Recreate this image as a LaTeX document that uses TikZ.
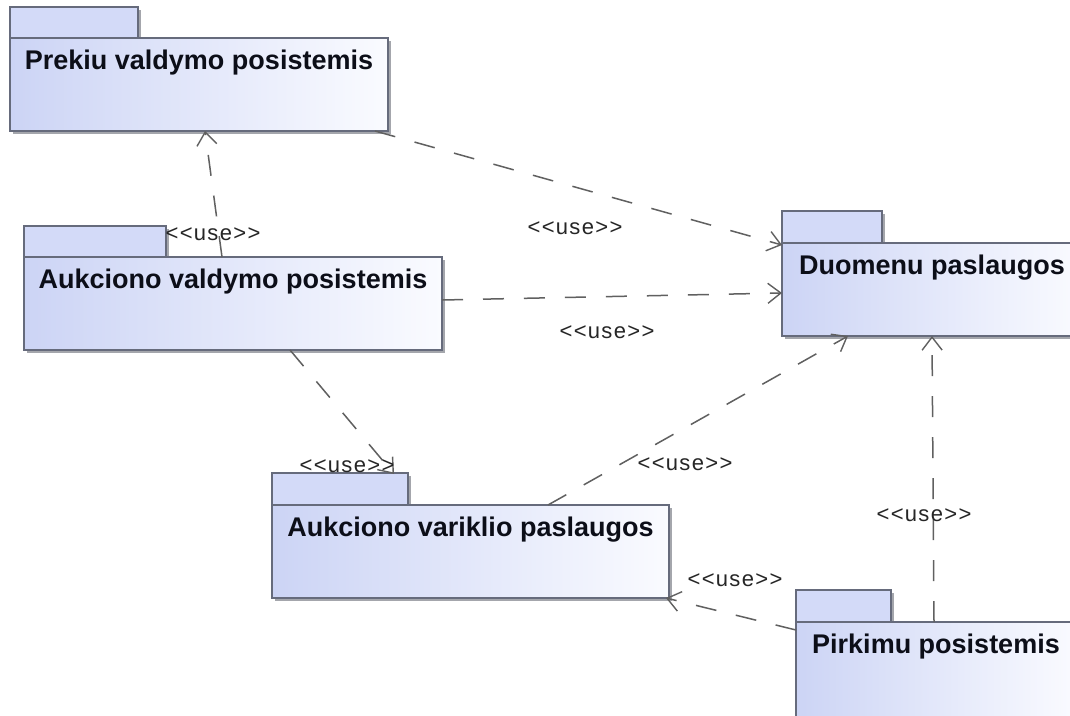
\documentclass[tikz,border=0pt]{standalone}
\usepackage{fontspec}
\setmainfont{Liberation Sans}
\newfontfamily\lblfont[LetterSpace=6]{Liberation Sans}
\usetikzlibrary{arrows.meta,calc}

\definecolor{pkgedge}{HTML}{666B7C}
\definecolor{pkgleft}{HTML}{CCD4F5}
\definecolor{pkgmid}{HTML}{DDE2F8}
\definecolor{pkgright}{HTML}{FAFBFF}
\definecolor{pkgtabc}{HTML}{D3DAF8}
\definecolor{shadowc}{HTML}{A4A6AC}
\definecolor{depc}{HTML}{606060}
\definecolor{titlec}{HTML}{0C0E18}

\tikzset{
  pkgbody/.style={rectangle, draw=pkgedge, line width=1.4pt, left color=pkgleft,
    middle color=pkgmid, right color=pkgright, anchor=north west, inner sep=0pt, outer sep=0pt},
  pkgtab/.style={rectangle, draw=pkgedge, line width=1.4pt, fill=pkgtabc,
    anchor=north west, inner sep=0pt, outer sep=0pt},
  pkgtitle/.style={font=\fontsize{27}{30}\selectfont\bfseries, text=titlec,
    anchor=north, inner sep=0pt},
  shadowbox/.style={fill=shadowc},
  usedep/.style={draw=depc, line width=1.5pt, dash pattern=on 21pt off 20pt,
    -{Straight Barb[length=13pt,width=20pt,line width=1.4pt]}},
  uselbl/.style={font=\lblfont\fontsize{22}{24}\selectfont, text=black!85, inner sep=0pt},
}

% UML package: name, left x, tab top, tab right, body top, body right, body bottom, title
\newcommand\umlpkg[8]{%
  \fill[shadowbox] (#2+3,#3+3) rectangle (#4+3,#5+3);
  \fill[shadowbox] (#2+3,#5+3) rectangle (#6+3,#7+3);
  \node[pkgtab, minimum width={(#4-#2)*1pt}, minimum height={(#5-#3)*1pt}]
    (#1tab) at (#2,#3) {};
  \node[pkgbody, minimum width={(#6-#2)*1pt}, minimum height={(#7-#5)*1pt}]
    (#1) at (#2,#5) {};
  \node[pkgtitle] (#1title) at ([yshift=-12pt]#1.north) {#8};
}

\begin{document}
\begin{tikzpicture}[x=1pt,y=-1pt]
  \useasboundingbox (0,0) rectangle (1070,715);
  \fill[white] (0,0) rectangle (1070,715);
  \clip (0,0) rectangle (1070,715);

  % packages
  \umlpkg{prek}{10}{7}{138}{38}{388}{131}{Prekiu valdymo posistemis}
  \umlpkg{aukval}{24}{226}{166}{257}{442}{350}{Aukciono valdymo posistemis}
  \umlpkg{aukvar}{272}{473}{408}{505}{669}{598}{Aukciono variklio paslaugos}
  \umlpkg{duom}{782}{211}{882}{243}{1082}{336}{Duomenu paslaugos}
  \umlpkg{pirk}{796}{590}{891}{622}{1076}{730}{Pirkimu posistemis}

  % <<use>> dependencies
  \draw[usedep] ([xshift=198pt]aukval.north west) -- ([xshift=195pt]prek.south west);
  \draw[usedep] ([xshift=365pt]prek.south west) -- ([yshift=-2pt]duom.north west);
  \draw[usedep] ([yshift=-43pt]aukval.north east) -- ([yshift=-50pt]duom.north west);
  \draw[usedep] ([xshift=266pt]aukval.south west) -- ([xshift=-14pt,yshift=-1pt]aukvartab.north east);
  \draw[usedep] ([xshift=276pt]aukvar.north west) -- ([xshift=66pt]duom.south west);
  \draw[usedep] ([xshift=138pt]pirk.north west) -- ([xshift=150pt]duom.south west);
  \draw[usedep] ([yshift=-8pt]pirk.north west) -- ([xshift=-3pt]aukvar.south east);

  % stereotype labels
  \node[uselbl] (l1) at (213,234) {<<use>>};
  \node[uselbl] (l2) at (575,228) {<<use>>};
  \node[uselbl] (l3) at (607,332) {<<use>>};
  \node[uselbl] (l4) at (347,466) {<<use>>};
  \node[uselbl] (l5) at (685,464) {<<use>>};
  \node[uselbl] (l6) at (924,515) {<<use>>};
  \node[uselbl] (l7) at (735,580) {<<use>>};
\end{tikzpicture}
\end{document}
